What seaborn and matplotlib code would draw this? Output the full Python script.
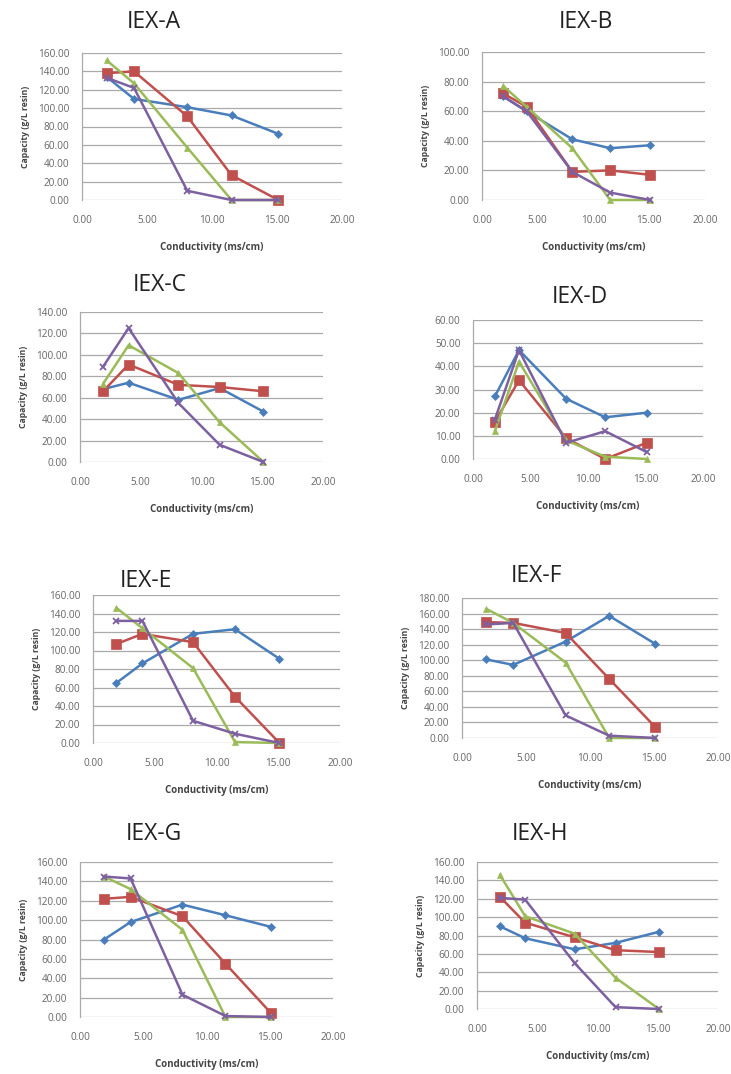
import numpy as np
import pandas as pd
import matplotlib
matplotlib.use("Agg")
import matplotlib.pyplot as plt
import seaborn as sns

sns.set_style("white")
plt.rcParams['font.family'] = ['Open Sans', 'DejaVu Sans']

# Data
panels = ["IEX-A", "IEX-B", "IEX-C", "IEX-D", "IEX-E", "IEX-F", "IEX-G", "IEX-H"]
conductivity = [1.9, 4.0, 8.1, 11.5, 15.1]  # ms/cm
series_names = ["blue", "red", "green", "purple"]

cap_blue = [[134, 110, 101, 92, 72],
            [70, 60, 41, 35, 37],
            [68, 74, 58, 69, 47],
            [27, 47, 26, 18, 20],
            [65, 86, 118, 123, 91],
            [101, 94, 124, 157, 121],
            [80, 98, 116, 105, 93],
            [90, 77, 65, 72, 84]]
cap_red = [[138, 140, 91, 27, 0],
           [72, 63, 19, 20, 17],
           [66, 91, 72, 70, 66],
           [16, 34, 9, 0, 7],
           [107, 118, 109, 50, 0],
           [149, 148, 135, 76, 14],
           [122, 124, 104, 55, 4],
           [122, 94, 78, 64, 62]]
cap_green = [[152, 127, 57, 0, 0],
             [77, 63, 35, 0, 0],
             [73, 109, 83, 37, 0],
             [12, 42, 8, 1, 0],
             [146, 124, 81, 1, 0],
             [166, 148, 97, 0, 0],
             [145, 132, 90, 0, 0],
             [146, 101, 82, 34, 0]]
cap_purple = [[133, 122, 10, 0, 0],
              [70, 60, 19, 5, 0],
              [89, 125, 55, 16, 0],
              [17, 47, 7, 12, 3],
              [132, 132, 24, 10, 0],
              [146, 148, 29, 3, 0],
              [145, 143, 23, 1, 0],
              [121, 119, 50, 2, 0]]
y_max = [160, 100, 140, 60, 160, 180, 160, 160]
y_step = [20, 20, 20, 10, 20, 20, 20, 20]
show_ylabel = [True, True, True, False, True, True, True, True]

# styles
colors = {"blue": "#4a7ebb", "red": "#c0504d", "green": "#9bbb59", "purple": "#7d60a0"}
markers = {"blue": "D", "red": "s", "green": "^", "purple": "x"}
msizes = {"blue": 4, "red": 6.5, "green": 5, "purple": 4.5}

# axes rectangles in pixels: left, top, right, bottom
W, H = 731, 1074
boxes = [(82, 53, 342, 200), (482, 52, 705, 200),
         (80, 312, 323, 462), (473, 320, 703, 459),
         (93, 595, 340, 743), (462, 598, 718, 738),
         (80, 862, 333, 1017), (477, 862, 718, 1009)]
# title centres in pixels
title_pos = [(154, 22), (586, 22), (160, 285), (580, 297),
             (146, 581), (536, 576), (154, 834), (540, 834)]

rows = []
all_caps = [cap_blue, cap_red, cap_green, cap_purple]
for p, name in enumerate(panels):
    for s, caps in zip(series_names, all_caps):
        for x, y in zip(conductivity, caps[p]):
            rows.append({"panel": name, "series": s, "x": x, "y": y})
df = pd.DataFrame(rows)

fig = plt.figure(figsize=(W / 100, H / 100), dpi=100)

for p, name in enumerate(panels):
    l, t, r, b = boxes[p]
    ax = fig.add_axes([l / W, 1 - b / H, (r - l) / W, (b - t) / H])
    sub = df[df.panel == name]
    for s in series_names:
        d = sub[sub.series == s]
        sns.lineplot(data=d, x="x", y="y", ax=ax, color=colors[s], marker=markers[s],
                     markersize=msizes[s], linewidth=1.8, markeredgecolor=colors[s],
                     markeredgewidth=1.3 if s == "purple" else 0.5, legend=False,
                     clip_on=False)
    ax.set_xlim(0, 20)
    ax.set_ylim(0, y_max[p])
    ax.set_xticks(np.arange(0, 21, 5))
    ax.set_yticks(np.arange(0, y_max[p] + 1, y_step[p]))
    ax.xaxis.set_major_formatter(matplotlib.ticker.FormatStrFormatter("%.2f"))
    ax.yaxis.set_major_formatter(matplotlib.ticker.FormatStrFormatter("%.2f"))
    ax.tick_params(labelsize=7.2, colors="#666666", length=0)
    ax.tick_params(axis="x", pad=11)
    ax.tick_params(axis="y", pad=9)
    ax.yaxis.grid(True, color="#aaaaaa", linewidth=0.9)
    ax.set_axisbelow(True)
    for sp in ["top", "right", "bottom"]:
        ax.spines[sp].set_visible(False)
    ax.spines["left"].set_color("#aaaaaa")
    ax.spines["left"].set_linewidth(0.9)
    ax.set_xlabel("Conductivity (ms/cm)", fontsize=7, fontweight="bold", color="#444444", labelpad=11)
    if show_ylabel[p]:
        ax.set_ylabel("Capacity (g/L resin)", fontsize=6.2, fontweight="bold", color="#444444", labelpad=6)
    else:
        ax.set_ylabel("")
    tx, ty = title_pos[p]
    fig.text(tx / W, 1 - ty / H, name, fontsize=16.5, color="#222222", ha="center", va="center")

fig.savefig("out.png", dpi=100)
